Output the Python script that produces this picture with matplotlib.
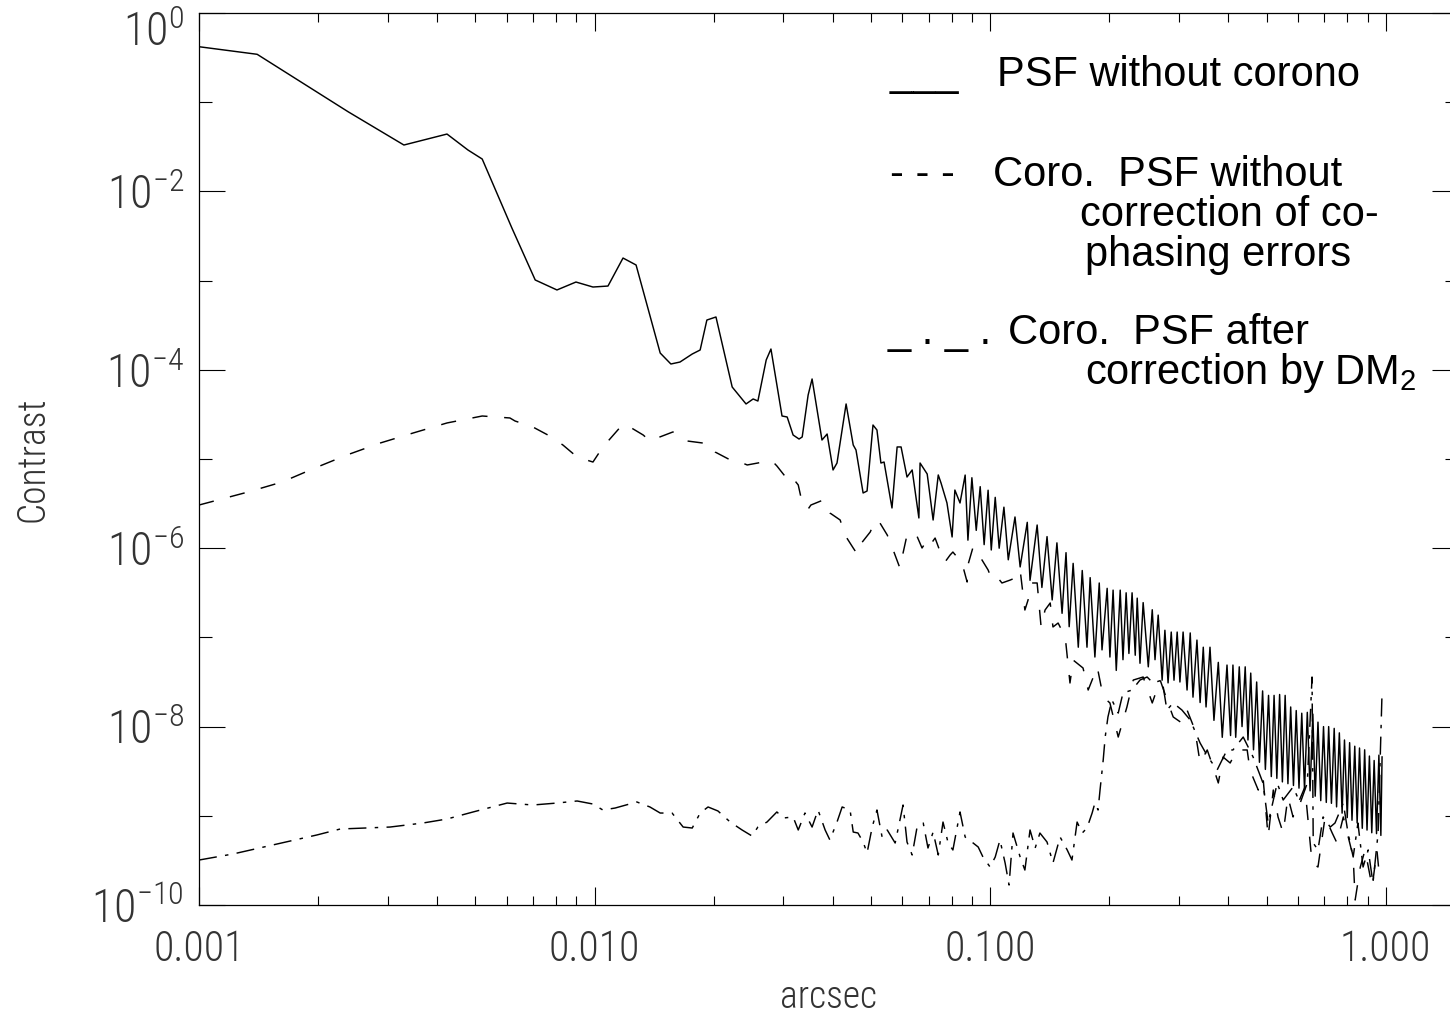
import numpy as np
import matplotlib
matplotlib.use('Agg')
import matplotlib.pyplot as plt
from matplotlib.ticker import FixedLocator, LogLocator, NullFormatter
from matplotlib.transforms import ScaledTranslation

# values, stored as (log10 arcsec, log10 contrast)
psf_no_corono = [
    (-3.0, -0.378), (-2.853, -0.463), (-2.623, -1.107), (-2.482, -1.480), (-2.373, -1.357),
    (-2.320, -1.536), (-2.284, -1.637), (-2.209, -2.410), (-2.150, -2.993), (-2.095, -3.105),
    (-2.047, -3.016), (-2.004, -3.072), (-1.966, -3.061), (-1.928, -2.747), (-1.895, -2.825),
    (-1.834, -3.812), (-1.807, -3.935), (-1.784, -3.913), (-1.753, -3.823), (-1.733, -3.778),
    (-1.716, -3.442), (-1.693, -3.408), (-1.652, -4.193), (-1.617, -4.383), (-1.599, -4.327),
    (-1.587, -4.350), (-1.566, -3.890), (-1.554, -3.767), (-1.526, -4.518), (-1.513, -4.529),
    (-1.498, -4.731), (-1.483, -4.776), (-1.475, -4.753), (-1.460, -4.283), (-1.450, -4.103),
    (-1.425, -4.787), (-1.412, -4.720), (-1.397, -5.123), (-1.387, -5.045), (-1.364, -4.383),
    (-1.346, -4.843), (-1.339, -4.899), (-1.321, -5.381), (-1.311, -5.359), (-1.296, -4.619),
    (-1.286, -4.675), (-1.276, -5.045), (-1.268, -5.034), (-1.248, -5.549), (-1.235, -4.865),
    (-1.225, -4.865), (-1.210, -5.202), (-1.197, -5.123), (-1.180, -5.661), (-1.177, -5.045),
    (-1.159, -5.168), (-1.157, -5.235), (-1.144, -5.684), (-1.131, -5.179), (-1.124, -5.269),
    (-1.109, -5.493), (-1.096, -5.874), (-1.089, -5.348), (-1.076, -5.493),
    # dense ring region: peak / trough pairs
    (-1.063, -5.18), (-1.056, -5.91), (-1.046, -5.21), (-1.035, -5.80), (-1.025, -5.31),
    (-1.015, -5.96), (-1.005, -5.35), (-0.997, -6.02), (-0.987, -5.43), (-0.977, -6.00),
    (-0.965, -5.54), (-0.954, -6.13), (-0.937, -5.65), (-0.924, -6.21), (-0.906, -5.71),
    (-0.899, -6.36), (-0.881, -5.74), (-0.869, -6.44), (-0.856, -5.87), (-0.843, -6.58),
    (-0.831, -5.94), (-0.818, -6.73), (-0.808, -6.05), (-0.800, -6.88), (-0.790, -6.17),
    (-0.777, -7.11), (-0.767, -6.25), (-0.755, -7.11), (-0.747, -6.33), (-0.735, -7.22),
    (-0.724, -6.39), (-0.717, -7.14), (-0.704, -6.45), (-0.697, -7.22), (-0.689, -6.47),
    (-0.681, -7.37), (-0.671, -6.47), (-0.664, -7.25), (-0.656, -6.50), (-0.649, -7.18),
    (-0.641, -6.50), (-0.633, -7.20), (-0.628, -6.56), (-0.621, -7.29), (-0.613, -6.61),
    (-0.600, -7.33), (-0.590, -6.69), (-0.583, -7.25), (-0.575, -6.75), (-0.565, -7.48),
    (-0.558, -6.92), (-0.550, -7.51), (-0.542, -6.94), (-0.535, -7.48), (-0.527, -6.94),
    (-0.520, -7.50), (-0.512, -6.94), (-0.502, -7.59), (-0.494, -6.95), (-0.487, -7.67),
    (-0.477, -7.03), (-0.469, -7.73), (-0.461, -7.11), (-0.454, -7.78), (-0.444, -7.11),
    (-0.434, -7.93), (-0.423, -7.28), (-0.413, -8.12), (-0.401, -7.31),
    (-0.392, -8.10), (-0.386, -7.31), (-0.379, -8.12), (-0.370, -7.33), (-0.363, -8.00),
    (-0.355, -7.33), (-0.348, -8.15), (-0.341, -7.40), (-0.334, -8.26), (-0.326, -7.50),
    (-0.319, -8.40), (-0.311, -7.60), (-0.304, -8.48), (-0.296, -7.65), (-0.289, -8.56),
    (-0.282, -7.65), (-0.275, -8.58), (-0.268, -7.64), (-0.261, -8.62), (-0.254, -7.65),
    (-0.247, -8.64), (-0.240, -7.78), (-0.233, -8.66), (-0.226, -7.82), (-0.219, -8.69),
    (-0.212, -7.85), (-0.205, -8.71), (-0.198, -7.84), (-0.191, -8.72), (-0.184, -7.86),
    (-0.178, -8.78), (-0.171, -7.95), (-0.164, -8.83), (-0.157, -8.00), (-0.150, -8.85),
    (-0.144, -8.00), (-0.137, -8.86), (-0.130, -8.02), (-0.124, -8.90), (-0.117, -8.07),
    (-0.110, -8.97), (-0.104, -8.15), (-0.097, -9.02), (-0.091, -8.18), (-0.085, -9.05),
    (-0.078, -8.22), (-0.072, -9.08), (-0.066, -8.24), (-0.059, -9.14), (-0.053, -8.26),
    (-0.047, -9.16), (-0.041, -8.33), (-0.035, -9.19), (-0.029, -8.38), (-0.023, -9.20),
    (-0.017, -8.32), (-0.012, -9.22), (-0.009, -8.34),
]

coro_uncorrected = [
    (-3.0, -5.516), (-2.876, -5.370), (-2.790, -5.258), (-2.707, -5.101), (-2.626, -4.955),
    (-2.542, -4.821), (-2.459, -4.709), (-2.373, -4.596), (-2.284, -4.518), (-2.214, -4.540),
    (-2.201, -4.574), (-2.156, -4.641), (-2.118, -4.731), (-2.080, -4.843), (-2.044, -4.978),
    (-2.004, -5.034), (-1.979, -4.866), (-1.948, -4.709), (-1.928, -4.608), (-1.915, -4.630),
    (-1.877, -4.731), (-1.860, -4.798), (-1.842, -4.765), (-1.802, -4.697), (-1.784, -4.731),
    (-1.766, -4.798), (-1.726, -4.821), (-1.713, -4.821), (-1.695, -4.922), (-1.652, -5.022),
    (-1.632, -5.034), (-1.614, -5.067), (-1.574, -5.034), (-1.551, -5.022), (-1.539, -5.078),
    (-1.511, -5.235), (-1.501, -5.202), (-1.485, -5.291), (-1.475, -5.493), (-1.460, -5.561),
    (-1.453, -5.516), (-1.422, -5.460), (-1.405, -5.605), (-1.379, -5.684), (-1.367, -5.852),
    (-1.346, -5.998), (-1.336, -6.065), (-1.329, -5.964), (-1.303, -5.818), (-1.291, -5.695),
    (-1.283, -5.684), (-1.260, -5.852), (-1.245, -6.020), (-1.228, -6.222), (-1.220, -6.054),
    (-1.210, -5.852), (-1.197, -5.818), (-1.185, -5.863), (-1.172, -5.998), (-1.164, -5.942),
    (-1.157, -5.998), (-1.139, -5.886), (-1.126, -6.043), (-1.114, -6.155), (-1.101, -6.076),
    (-1.094, -6.043), (-1.071, -6.166), (-1.058, -6.379), (-1.056, -6.188), (-1.043, -5.987),
    (-1.025, -6.099), (-1.005, -6.244), (-0.995, -6.357), (-0.980, -6.334), (-0.970, -6.390),
    (-0.949, -6.357), (-0.937, -6.334), (-0.924, -6.244), (-0.912, -6.693), (-0.904, -6.581),
    (-0.894, -6.390), (-0.881, -6.390), (-0.871, -6.883), (-0.861, -6.693), (-0.848, -6.614),
    (-0.841, -6.883), (-0.828, -6.839), (-0.810, -6.996), (-0.798, -7.511), (-0.790, -7.254),
    (-0.765, -7.343), (-0.752, -7.590), (-0.729, -7.332), (-0.714, -7.668), (-0.697, -7.735),
    (-0.676, -8.117), (-0.654, -7.780), (-0.638, -7.478), (-0.613, -7.444), (-0.590, -7.735),
    (-0.570, -7.478), (-0.550, -7.735), (-0.537, -7.892), (-0.515, -7.960), (-0.502, -7.814),
    (-0.482, -8.038), (-0.469, -8.408), (-0.451, -8.262), (-0.436, -8.453), (-0.423, -8.632),
    (-0.411, -8.341), (-0.393, -8.408), (-0.376, -8.262), (-0.350, -8.262), (-0.343, -8.487),
    (-0.322, -8.711), (-0.310, -8.565), (-0.297, -9.238), (-0.284, -8.711), (-0.272, -9.013),
    (-0.259, -9.193), (-0.247, -8.789), (-0.234, -9.013), (-0.221, -8.857), (-0.204, -8.677),
    (-0.186, -9.529), (-0.171, -9.574), (-0.153, -9.013), (-0.135, -9.193), (-0.123, -9.305),
    (-0.107, -9.013), (-0.082, -9.462), (-0.077, -9.944), (-0.064, -9.574), (-0.052, -9.383),
    (-0.034, -9.798), (-0.022, -9.383), (-0.014, -9.753),
]

coro_dm2 = [
    (-3.0, -9.496), (-2.914, -9.428), (-2.813, -9.327), (-2.702, -9.215), (-2.643, -9.148),
    (-2.517, -9.126), (-2.434, -9.081), (-2.373, -9.036), (-2.307, -8.957), (-2.221, -8.857),
    (-2.156, -8.879), (-2.095, -8.857), (-2.044, -8.834), (-2.004, -8.868), (-1.979, -8.935),
    (-1.948, -8.913), (-1.893, -8.845), (-1.860, -8.901), (-1.834, -8.969), (-1.804, -8.969),
    (-1.776, -9.126), (-1.753, -9.137), (-1.733, -8.969), (-1.713, -8.901), (-1.688, -8.946),
    (-1.657, -9.070), (-1.627, -9.159), (-1.602, -9.226), (-1.587, -9.126), (-1.564, -9.070),
    (-1.539, -8.957), (-1.523, -9.025), (-1.498, -9.013), (-1.485, -9.159), (-1.468, -8.969),
    (-1.450, -9.126), (-1.435, -8.935), (-1.417, -9.159), (-1.405, -9.271), (-1.387, -9.070),
    (-1.374, -8.901), (-1.354, -8.935), (-1.346, -9.182), (-1.334, -9.193), (-1.321, -9.294),
    (-1.311, -9.417), (-1.298, -9.126), (-1.286, -8.935), (-1.273, -9.238), (-1.260, -9.159),
    (-1.240, -9.305), (-1.220, -8.879), (-1.210, -9.294), (-1.197, -9.439), (-1.185, -9.137),
    (-1.169, -9.081), (-1.157, -9.361), (-1.144, -9.182), (-1.131, -9.439), (-1.119, -9.070),
    (-1.106, -9.305), (-1.094, -9.383), (-1.076, -8.957), (-1.063, -9.238), (-1.046, -9.294),
    (-1.030, -9.350), (-1.018, -9.462), (-1.000, -9.574), (-0.987, -9.462), (-0.975, -9.271),
    (-0.962, -9.529), (-0.952, -9.776), (-0.942, -9.193), (-0.924, -9.462), (-0.912, -9.608),
    (-0.899, -9.159), (-0.886, -9.361), (-0.874, -9.193), (-0.856, -9.294), (-0.841, -9.529),
    (-0.823, -9.238), (-0.805, -9.383), (-0.793, -9.496), (-0.780, -9.070), (-0.767, -9.193),
    (-0.755, -9.137), (-0.742, -8.969), (-0.735, -8.857), (-0.727, -8.935), (-0.722, -8.711),
    (-0.714, -8.375), (-0.709, -8.117), (-0.702, -7.892), (-0.692, -7.702), (-0.676, -7.848),
    (-0.664, -7.623), (-0.641, -7.590), (-0.621, -7.478), (-0.603, -7.444), (-0.588, -7.511),
    (-0.565, -7.478), (-0.553, -7.814), (-0.537, -7.735), (-0.515, -7.814), (-0.494, -7.926),
    (-0.469, -8.184), (-0.449, -8.341), (-0.426, -8.487), (-0.401, -8.262), (-0.386, -8.262),
    (-0.360, -8.117), (-0.335, -8.341), (-0.310, -8.632), (-0.297, -9.081), (-0.274, -8.632),
    (-0.259, -8.823), (-0.234, -8.677), (-0.216, -8.857), (-0.198, -8.632), (-0.186, -7.444),
    (-0.183, -9.305), (-0.171, -9.383), (-0.158, -9.013), (-0.140, -9.126), (-0.128, -9.081),
    (-0.107, -8.857), (-0.095, -9.193), (-0.082, -9.462), (-0.070, -9.081), (-0.057, -9.574),
    (-0.044, -9.383), (-0.032, -9.753), (-0.019, -9.193), (-0.009, -7.612),
]

xtick_values = [0.001, 0.01, 0.1, 1.0]
xtick_labels = ['0.001', '0.010', '0.100', '1.000']
ytick_values = [1e0, 1e-2, 1e-4, 1e-6, 1e-8, 1e-10]
ytick_labels = [r'$\mathdefault{10^{0}}$', r'$\mathdefault{10^{-2}}$', r'$\mathdefault{10^{-4}}$',
                r'$\mathdefault{10^{-6}}$', r'$\mathdefault{10^{-8}}$', r'$\mathdefault{10^{-10}}$']
yminor_values = [1e-1, 1e-3, 1e-5, 1e-7, 1e-9]

# thin, narrow face for the axis annotation (closest to the IDL vector font)
plt.rcParams['font.family'] = ['Roboto Condensed', 'DejaVu Sans']
plt.rcParams['font.weight'] = 'light'
plt.rcParams['font.stretch'] = 'condensed'
plt.rcParams['lines.scale_dashes'] = False

W, H = 1450, 1015
fig = plt.figure(figsize=(W / 100, H / 100), dpi=100)
ax = fig.add_axes([199 / W, 110 / H, 1259 / W, 892 / H])

for pts, style in [(psf_no_corono, dict(linestyle='-')),
                   (coro_uncorrected, dict(dashes=(11, 12))),
                   (coro_dm2, dict(dashes=(13, 6, 2.5, 6)))]:
    arr = np.array(pts)
    ax.plot(10 ** arr[:, 0], 10 ** arr[:, 1], color='black', linewidth=1.05, **style)

ax.set_xscale('log')
ax.set_yscale('log')
ax.set_xlim(1e-3, 10 ** 0.183)
ax.set_ylim(1e-10, 1.0)

ax.set_xticks(xtick_values, labels=xtick_labels)
ax.xaxis.set_minor_locator(LogLocator(base=10, subs=[2, 3, 4, 5, 6, 7, 8, 9]))
ax.xaxis.set_minor_formatter(NullFormatter())
ax.set_yticks(ytick_values, labels=ytick_labels)
ax.yaxis.set_minor_locator(FixedLocator(yminor_values))
ax.yaxis.set_minor_formatter(NullFormatter())

ax.tick_params(axis='x', which='major', direction='in', length=13, width=0.8,
               top=True, pad=17, labelsize=30, labelcolor='#333333')
ax.tick_params(axis='x', which='minor', direction='in', length=6.5, width=0.8, top=True)
ax.tick_params(axis='y', which='major', direction='in', length=18.7, width=0.8,
               right=True, pad=11, labelsize=33, labelcolor='#333333')
ax.tick_params(axis='y', which='minor', direction='in', length=9.4, width=0.8, right=True)
for sp in ax.spines.values():
    sp.set_linewidth(0.9)

# the top label sits a little lower than its tick, as in the original
top_label = ax.yaxis.get_majorticklabels()[0]
top_label.set_transform(top_label.get_transform() +
                        ScaledTranslation(0, -11 / 72, fig.dpi_scale_trans))

fig.text(828 / W, 1 - 997 / H, 'arcsec', ha='center', va='center',
         fontsize=27, color='#333333')
fig.text(33 / W, 1 - 459 / H, 'Contrast', ha='center', va='center', rotation=90,
         fontsize=27, color='#333333')

# legend drawn as text, the way the original figure has it
lfont = dict(fontsize=30, family='Liberation Sans', weight='normal', stretch='normal',
             color='black', va='baseline')
fig.text(890 / W, 1 - 86 / H, '___', **lfont)
fig.text(997 / W, 1 - 86 / H, 'PSF without corono', **lfont)
fig.text(890 / W, 1 - 186 / H, '- - -', **lfont)
fig.text(993 / W, 1 - 186 / H, 'Coro.  PSF without', **lfont)
fig.text(1080 / W, 1 - 226 / H, 'correction of co-', **lfont)
fig.text(1085 / W, 1 - 266 / H, 'phasing errors', **lfont)
fig.text(888 / W, 1 - 344 / H, '_ . _ .', **lfont)
fig.text(1008 / W, 1 - 344 / H, 'Coro.  PSF after', **lfont)
fig.text(1085 / W, 1 - 384 / H, r'correction by DM$_\mathregular{2}$', **lfont)

fig.savefig('out.png', dpi=100)
